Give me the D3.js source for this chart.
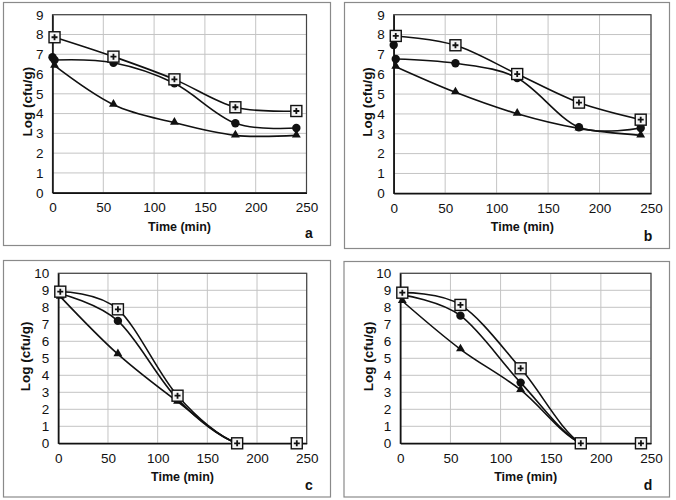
<!DOCTYPE html>
<html>
<head>
<meta charset="utf-8">
<script src="https://cdn.jsdelivr.net/npm/d3@7"></script>
<style>
  body { margin: 0; background: #fff; }
  text { font-family: "Liberation Sans", Arial, sans-serif; fill: #111; }
</style>
</head>
<body>
<svg id="chart" width="676" height="500"></svg>
<script>
// sampling times (min) and axis ticks
var times = [2, 60, 120, 180, 240];
var xTicks = [0, 50, 100, 150, 200, 250];
var panelLabels = ['a', 'b', 'c', 'd'];
var yMax = [9, 9, 10, 10];

// log (cfu/g) per panel, one array per series
var squareSeries = [
  [7.86, 6.88, 5.73, 4.32, 4.13],
  [7.93, 7.46, 6.01, 4.57, 3.71],
  [8.92, 7.88, 2.80, 0, 0],
  [8.86, 8.14, 4.41, 0, 0]
];
var circleSeries = [
  [6.71, 6.57, 5.53, 3.51, 3.27],
  [6.77, 6.55, 5.81, 3.33, 3.29],
  [8.80, 7.20, 2.60, 0, 0],
  [8.73, 7.51, 3.57, 0, 0]
];
var triangleSeries = [
  [6.42, 4.45, 3.54, 2.90, 2.90],
  [6.38, 5.09, 4.01, 3.27, 2.92],
  [8.63, 5.24, 2.45, 0, 0],
  [8.37, 5.53, 3.14, 0, 0]
];
// single initial count at t = 0
var initialCount = [6.85, 7.47, null, null];

var layout = [
  { frame: [3, 2, 330, 245], plot: [52.5, 14.7, 306.5, 192.7], titleX: 27 },
  { frame: [344, 2, 669, 248], plot: [393.7, 14.7, 651, 193.3], titleX: 367 },
  { frame: [3, 260, 330, 496.5], plot: [58.3, 273.3, 306.7, 443.3], titleX: 25 },
  { frame: [343.5, 261, 669, 496.5], plot: [400.3, 273.3, 651, 443.3], titleX: 368 }
];

var svg = d3.select('#chart');

layout.forEach(function(L, p) {
  var x = d3.scaleLinear().domain([0, 250]).range([L.plot[0], L.plot[2]]);
  var y = d3.scaleLinear().domain([0, yMax[p]]).range([L.plot[3], L.plot[1]]);
  var yTicks = d3.range(0, yMax[p] + 1);

  // outer frame
  svg.append('rect')
    .attr('x', L.frame[0] + 0.5).attr('y', L.frame[1] + 0.5)
    .attr('width', L.frame[2] - L.frame[0]).attr('height', L.frame[3] - L.frame[1])
    .attr('fill', 'none').attr('stroke', '#8a8a8a').attr('stroke-width', 1.2);

  var g = svg.append('g');

  // grid
  g.selectAll('.hg').data(yTicks).enter().append('line')
    .attr('x1', L.plot[0]).attr('x2', L.plot[2])
    .attr('y1', function(d) { return y(d); }).attr('y2', function(d) { return y(d); })
    .attr('stroke', '#c4c4c4').attr('stroke-width', 1);
  g.selectAll('.vg').data(xTicks).enter().append('line')
    .attr('x1', function(d) { return x(d); }).attr('x2', function(d) { return x(d); })
    .attr('y1', L.plot[1]).attr('y2', L.plot[3])
    .attr('stroke', '#c4c4c4').attr('stroke-width', 1);

  // plot border
  g.append('rect')
    .attr('x', L.plot[0]).attr('y', L.plot[1])
    .attr('width', L.plot[2] - L.plot[0]).attr('height', L.plot[3] - L.plot[1])
    .attr('fill', 'none').attr('stroke', '#444').attr('stroke-width', 1.2);

  // axes
  g.append('g').attr('transform', 'translate(0,' + L.plot[3] + ')')
    .call(d3.axisBottom(x).tickValues(xTicks).tickSize(0).tickPadding(10))
    .call(function(a) {
      a.select('.domain').attr('stroke', '#111').attr('stroke-width', 1.5);
      a.selectAll('text').style('font-size', '13.5px').attr('fill', '#111');
    });
  g.append('g').attr('transform', 'translate(' + L.plot[0] + ',0)')
    .call(d3.axisLeft(y).tickValues(yTicks).tickSize(0).tickPadding(9))
    .call(function(a) {
      a.select('.domain').attr('stroke', '#111').attr('stroke-width', 1.5);
      a.selectAll('text').style('font-size', '13.5px').attr('fill', '#111');
    });

  // titles
  g.append('text')
    .attr('x', (L.plot[0] + L.plot[2]) / 2).attr('y', L.plot[3] + 38)
    .attr('text-anchor', 'middle').style('font-size', '12.5px').style('font-weight', 'bold')
    .text('Time (min)');
  g.append('text')
    .attr('transform', 'translate(' + L.titleX + ',' + ((L.plot[1] + L.plot[3]) / 2 - 2) + ') rotate(-90)')
    .attr('text-anchor', 'middle').attr('dy', '0.35em')
    .style('font-size', '13.5px').style('font-weight', 'bold')
    .text('Log (cfu/g)');
  g.append('text')
    .attr('x', L.frame[2] - 21).attr('y', L.frame[3] - 7)
    .attr('text-anchor', 'middle').style('font-size', '14px').style('font-weight', 'bold')
    .text(panelLabels[p]);

  // clip for the smoothed lines
  var clipId = 'clip' + p;
  svg.append('clipPath').attr('id', clipId).append('rect')
    .attr('x', L.plot[0]).attr('y', L.plot[1] - 2)
    .attr('width', L.plot[2] - L.plot[0]).attr('height', L.plot[3] - L.plot[1] + 2);

  var line = d3.line()
    .x(function(d, i) { return x(times[i]); })
    .y(function(d) { return y(d); })
    .curve(d3.curveCardinal.tension(0));

  [triangleSeries[p], circleSeries[p], squareSeries[p]].forEach(function(s) {
    g.append('path').datum(s)
      .attr('d', line)
      .attr('clip-path', 'url(#' + clipId + ')')
      .attr('fill', 'none').attr('stroke', '#111').attr('stroke-width', 1.6);
  });

  // triangles
  g.selectAll('.tri').data(triangleSeries[p]).enter().append('path')
    .attr('d', d3.symbol().type(d3.symbolTriangle).size(34))
    .attr('transform', function(d, i) { return 'translate(' + x(times[i]) + ',' + (y(d) - 0.5) + ')'; })
    .attr('fill', '#111');

  // circles
  g.selectAll('.cir').data(circleSeries[p]).enter().append('circle')
    .attr('cx', function(d, i) { return x(times[i]); })
    .attr('cy', function(d) { return y(d); })
    .attr('r', 4.2).attr('fill', '#111');
  if (initialCount[p] != null) {
    g.append('circle')
      .attr('cx', x(0)).attr('cy', y(initialCount[p]))
      .attr('r', 4.2).attr('fill', '#111');
  }

  // squares with a cross inside
  var sq = g.selectAll('.sq').data(squareSeries[p]).enter().append('g')
    .attr('transform', function(d, i) { return 'translate(' + x(times[i]) + ',' + y(d) + ')'; });
  sq.append('rect')
    .attr('x', -5.5).attr('y', -5.5).attr('width', 11).attr('height', 11)
    .attr('fill', '#f4f4f4').attr('stroke', '#111').attr('stroke-width', 1.4);
  sq.append('path')
    .attr('d', 'M-3,0H3M0,-3V3')
    .attr('stroke', '#111').attr('stroke-width', 1.8);
});
</script>
</body>
</html>
